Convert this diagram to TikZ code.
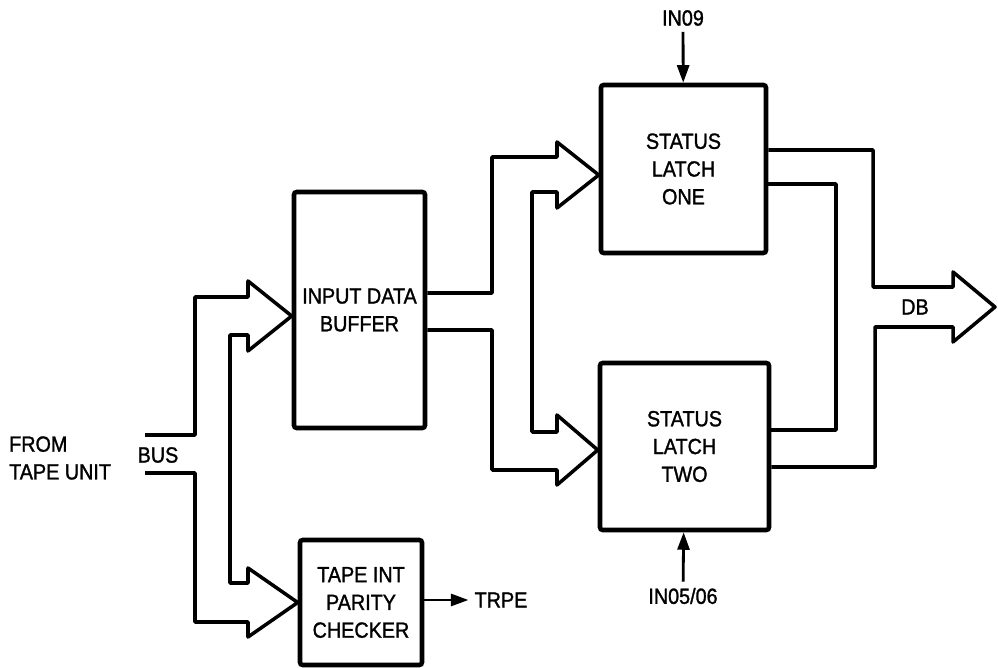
\documentclass[tikz,border=0pt]{standalone}
\usepackage{fontspec}
\setmainfont[FakeStretch=0.9, FakeBold=1.3]{Liberation Sans}
\usetikzlibrary{arrows.meta}

\begin{document}
\begin{tikzpicture}[x=0.02cm, y=-0.02cm, font=\fontsize{12.5}{15.8}\selectfont,
	block/.style={draw, line width=2.6pt, rounded corners=1.5pt, align=center},
	bus/.style={line width=2pt, line join=round},
	sig/.style={line width=1.6pt, -{Triangle[length=0.35cm, width=0.24cm]}}]
		\useasboundingbox (0,0) rectangle (998,668);
		% Define nodes
		\node[block, minimum width=2.62cm, minimum height=4.72cm] (buf) at (359.5,310)
		{INPUT DATA\\BUFFER}; \node[block, minimum width=2.44cm, minimum height=2.5cm]
		(chk) at (361,602.5) {TAPE INT\\PARITY\\CHECKER}; \node[block, minimum
		width=3.3cm, minimum height=3.36cm] (lat1) at (683.5,169) {STATUS\\LATCH\\ONE};
		\node[block, minimum width=3.38cm, minimum height=3.34cm] (lat2) at (684.5,446.5)
		{STATUS\\LATCH\\TWO};
		
		% Define labels
		\node[align=left, anchor=west] (src) at (3,458) {FROM\\TAPE UNIT}; \node (bus) at
		(158,455) {BUS}; \node (in09) at (683,18) {IN09}; \node (in0506) at (683,596)
		{IN05/06}; \node (trpe) at (501,600) {TRPE}; \node (db) at (915,307) {DB};
		\coordinate (dbout) at (995,307);
		
		% Draw buses
		\draw[bus] (145,435) -- (195,435) -- (195,297) -- (248,297) -- (248,281) --
		(buf.west |- 0,316) -- (248,351) -- (248,335) -- (230,335) -- (230,583) --
		(248,583) -- (248,568) -- (chk.west) -- (248,637) -- (248,622) -- (195,622) --
		(195,473) -- (145,473);
		\draw[bus] (buf.east |- 0,293) -- (492,293) -- (492,157) -- (557,157) -- (557,142)
		-- (lat1.west |- 0,175) -- (557,208) -- (557,192) -- (532,192) -- (532,432) --
		(557,432) -- (557,415) -- (lat2.west |- 0,450) -- (557,485) -- (557,470) --
		(492,470) -- (492,330) -- (buf.east |- 0,330);
		\draw[bus] (lat1.east |- 0,150) -- (873,150) -- (873,287) -- (953,287) --
		(953,272) -- (dbout) -- (953,342) -- (953,327) -- (875,327) -- (875,467) --
		(lat2.east |- 0,467);
		\draw[bus] (lat1.east |- 0,184) -- (836,184) -- (836,430) -- (lat2.east |- 0,430);
		
		% Draw signals
		\draw[sig] (in09) -- (lat1); \draw[sig] (in0506) -- (lat2); \draw[sig] (chk.east
		|- trpe) -- (trpe);
	\end{tikzpicture}
\end{document}
